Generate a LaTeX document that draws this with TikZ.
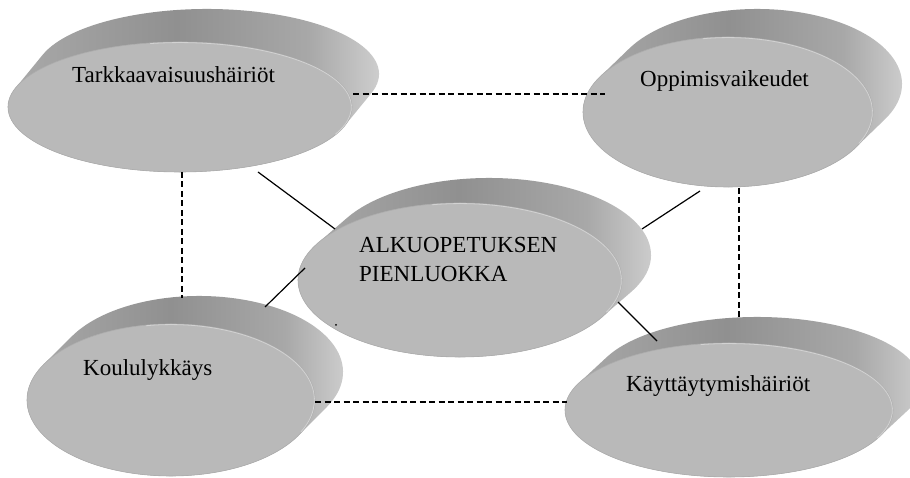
\documentclass[tikz,border=0pt]{standalone}
\usepackage{fontspec}
\setmainfont{Liberation Serif}
\usetikzlibrary{shapes.geometric,calc}
\definecolor{facegray}{HTML}{B9B9B9}
\definecolor{rimgray}{HTML}{ADADAD}
\definecolor{hlgray}{HTML}{D2D2D2}
\definecolor{sideL}{HTML}{ADADAD}
\definecolor{sideM}{HTML}{909090}
\definecolor{sideN}{HTML}{A8A8A8}
\definecolor{sideR}{HTML}{D8D8D8}
\pgfdeclarehorizontalshading{discsideshade}{100bp}{color(0bp)=(sideL); color(25bp)=(sideL); color(48bp)=(sideM); color(64bp)=(sideN); color(75bp)=(sideR); color(100bp)=(sideR)}
% name, cx, cy, a, b, dx, dy
\newcommand{\drawdisc}[7]{%
  \pgfmathsetmacro\dTa{atan(-(#5)*(#6)/((#4)*(#7)))}%
  \pgfmathsetmacro\dTb{\dTa+180}%
  \pgfmathsetmacro\dTc{\dTa-180}%
  \pgfmathsetmacro\dXa{#2+#4*cos(\dTb)}%
  \pgfmathsetmacro\dYa{#3+#5*sin(\dTb)}%
  \pgfmathsetmacro\dXb{#2+#4*cos(\dTa)}%
  \pgfmathsetmacro\dYb{#3+#5*sin(\dTa)}%
  \shade[discside] (\dXa,\dYa) -- ++(#6,#7)
     arc[start angle=\dTb, end angle=\dTa, x radius=#4, y radius=#5]
     -- (\dXb,\dYb)
     arc[start angle=\dTa, end angle=\dTc, x radius=#4, y radius=#5] -- cycle;
  \node[discface, minimum width={2*#4}, minimum height={2*#5}] (#1) at (#2,#3) {};
  \pgfmathsetmacro\dXh{#2+(#4-0.6)*cos(100)}%
  \pgfmathsetmacro\dYh{#3+(#5-0.6)*sin(100)}%
  \draw[hlgray, line width=0.8pt] (\dXh,\dYh)
     arc[start angle=100, end angle=-25, x radius=#4-0.6, y radius=#5-0.6];
}
\begin{document}
\begin{tikzpicture}[x=1pt,y=1pt,
  discside/.style={shading=discsideshade},
  discface/.style={ellipse, fill=facegray, draw=rimgray, line width=0.6pt, inner sep=0pt, outer sep=0pt},
  lbl/.style={anchor=base west, inner sep=0pt, font=\fontsize{23}{29}\selectfont, text=black},
  link/.style={draw=black, line width=1.2pt},
  dashlink/.style={draw=black, line width=1.2pt, dash pattern=on 6pt off 3.5pt}]
\useasboundingbox (0,0) rectangle (910,478);
\fill[white] (0,0) rectangle (910,478);

\drawdisc{E1}{180}{371}{172}{65}{27}{33}
\drawdisc{E2}{728}{366}{145}{75}{29}{28}
\drawdisc{E4}{171}{78}{144}{76}{28}{28}
\drawdisc{E5}{729}{68}{164}{67}{28}{26}
\drawdisc{E3}{460}{198}{162}{77}{29}{25}

% connector end points
\coordinate (l1a) at (258,306);
\coordinate (l1b) at (335,249);
\coordinate (l2a) at (642,249);
\coordinate (l2b) at (700,287);
\coordinate (l3a) at (305,210);
\coordinate (l3b) at (265,171);
\coordinate (l4a) at (618,176);
\coordinate (l4b) at (657,137);
\coordinate (dta) at (353,384);
\coordinate (dtb) at (605,384);
\coordinate (dla) at (182,306);
\coordinate (dlb) at (182,180);
\coordinate (dra) at (739,290);
\coordinate (drb) at (739,160);
\coordinate (dba) at (315,76);
\coordinate (dbb) at (567,76);

\draw[link] (l1a) -- (l1b);
\draw[link] (l2a) -- (l2b);
\draw[link] (l3a) -- (l3b);
\draw[link] (l4a) -- (l4b);
\draw[dashlink] (dta) -- (dtb);
\draw[dashlink] (dla) -- (dlb);
\draw[dashlink] (dra) -- (drb);
\draw[dashlink] (dba) -- (dbb);

\node[lbl] (T1) at (72,395) {Tarkkaavaisuushäiriöt};
\node[lbl] (T2) at (640,391) {Oppimisvaikeudet};
\node[lbl, align=left] (T3) at (359,196) {ALKUOPETUKSEN\\PIENLUOKKA};
\node[lbl] (T4) at (83,102) {Koululykkäys};
\node[lbl] (T5) at (626,86) {Käyttäytymishäiriöt};
\fill[black] (336,153) circle[radius=1];
\end{tikzpicture}
\end{document}
